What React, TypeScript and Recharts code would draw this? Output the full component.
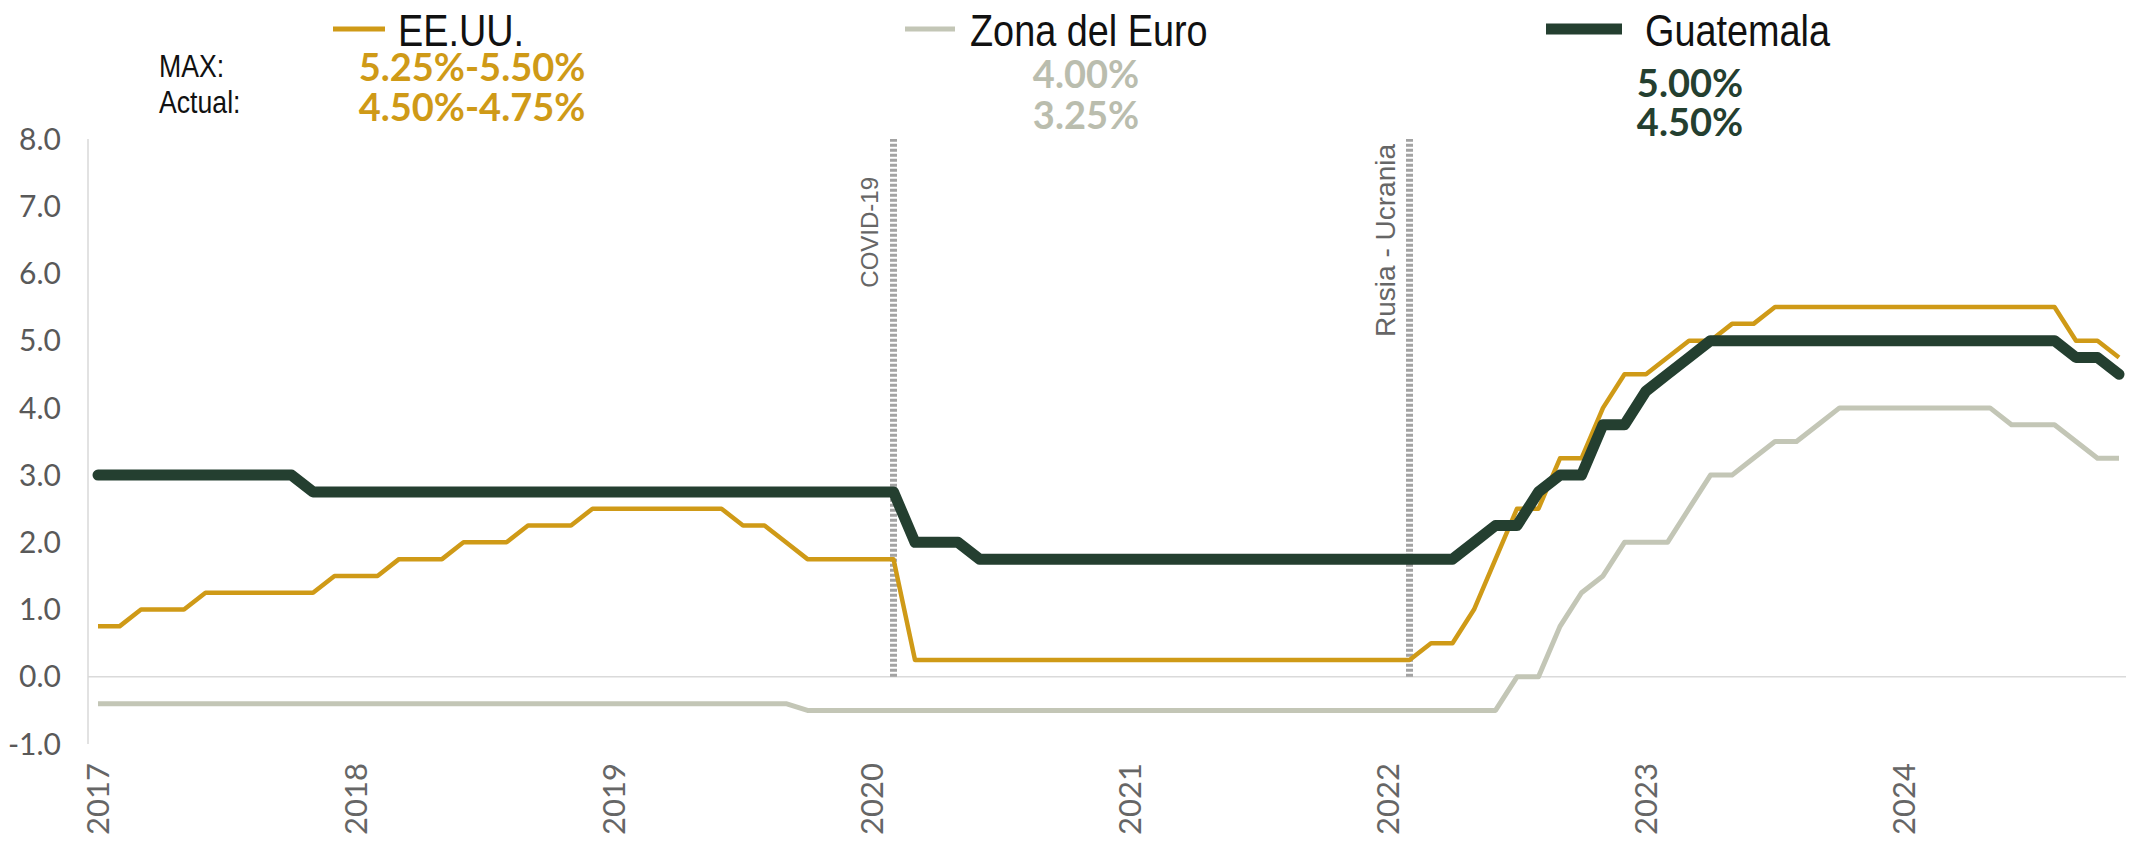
import React from 'react';
import { LineChart, Line, XAxis, YAxis, ReferenceLine } from 'recharts';

const YEARS = ['2017', '2018', '2019', '2020', '2021', '2022', '2023', '2024'];
const MONTHS = ['01', '02', '03', '04', '05', '06', '07', '08', '09', '10', '11', '12'];

// monthly policy rates, Jan 2017 .. Nov 2024
const usa = [
  0.75, 0.75, 1.0, 1.0, 1.0, 1.25, 1.25, 1.25, 1.25, 1.25, 1.25, 1.5,
  1.5, 1.5, 1.75, 1.75, 1.75, 2.0, 2.0, 2.0, 2.25, 2.25, 2.25, 2.5,
  2.5, 2.5, 2.5, 2.5, 2.5, 2.5, 2.25, 2.25, 2.0, 1.75, 1.75, 1.75,
  1.75, 1.75, 0.25, 0.25, 0.25, 0.25, 0.25, 0.25, 0.25, 0.25, 0.25, 0.25,
  0.25, 0.25, 0.25, 0.25, 0.25, 0.25, 0.25, 0.25, 0.25, 0.25, 0.25, 0.25,
  0.25, 0.25, 0.5, 0.5, 1.0, 1.75, 2.5, 2.5, 3.25, 3.25, 4.0, 4.5,
  4.5, 4.75, 5.0, 5.0, 5.25, 5.25, 5.5, 5.5, 5.5, 5.5, 5.5, 5.5,
  5.5, 5.5, 5.5, 5.5, 5.5, 5.5, 5.5, 5.5, 5.0, 5.0, 4.75,
];

const euro = [
  -0.4, -0.4, -0.4, -0.4, -0.4, -0.4, -0.4, -0.4, -0.4, -0.4, -0.4, -0.4,
  -0.4, -0.4, -0.4, -0.4, -0.4, -0.4, -0.4, -0.4, -0.4, -0.4, -0.4, -0.4,
  -0.4, -0.4, -0.4, -0.4, -0.4, -0.4, -0.4, -0.4, -0.4, -0.5, -0.5, -0.5,
  -0.5, -0.5, -0.5, -0.5, -0.5, -0.5, -0.5, -0.5, -0.5, -0.5, -0.5, -0.5,
  -0.5, -0.5, -0.5, -0.5, -0.5, -0.5, -0.5, -0.5, -0.5, -0.5, -0.5, -0.5,
  -0.5, -0.5, -0.5, -0.5, -0.5, -0.5, 0.0, 0.0, 0.75, 1.25, 1.5, 2.0,
  2.0, 2.0, 2.5, 3.0, 3.0, 3.25, 3.5, 3.5, 3.75, 4.0, 4.0, 4.0,
  4.0, 4.0, 4.0, 4.0, 4.0, 3.75, 3.75, 3.75, 3.5, 3.25, 3.25,
];

const guate = [
  3.0, 3.0, 3.0, 3.0, 3.0, 3.0, 3.0, 3.0, 3.0, 3.0, 2.75, 2.75,
  2.75, 2.75, 2.75, 2.75, 2.75, 2.75, 2.75, 2.75, 2.75, 2.75, 2.75, 2.75,
  2.75, 2.75, 2.75, 2.75, 2.75, 2.75, 2.75, 2.75, 2.75, 2.75, 2.75, 2.75,
  2.75, 2.75, 2.0, 2.0, 2.0, 1.75, 1.75, 1.75, 1.75, 1.75, 1.75, 1.75,
  1.75, 1.75, 1.75, 1.75, 1.75, 1.75, 1.75, 1.75, 1.75, 1.75, 1.75, 1.75,
  1.75, 1.75, 1.75, 1.75, 2.0, 2.25, 2.25, 2.75, 3.0, 3.0, 3.75, 3.75,
  4.25, 4.5, 4.75, 5.0, 5.0, 5.0, 5.0, 5.0, 5.0, 5.0, 5.0, 5.0,
  5.0, 5.0, 5.0, 5.0, 5.0, 5.0, 5.0, 5.0, 4.75, 4.75, 4.5,
];

const yTicks = [-1, 0, 1, 2, 3, 4, 5, 6, 7, 8];

const eventDates = ['2020-02', '2022-02'];
const eventLabels = ['COVID-19', 'Rusia - Ucrania'];

const seriesNames = ['EE.UU.', 'Zona del Euro', 'Guatemala'];
const maxValues = ['5.25%-5.50%', '4.00%', '5.00%'];
const currentValues = ['4.50%-4.75%', '3.25%', '4.50%'];

const periods = YEARS.flatMap((y) => MONTHS.map((m) => `${y}-${m}`)).slice(0, usa.length);
const data = periods.map((p, i) => ({ p, usa: usa[i], euro: euro[i], guate: guate[i] }));

const GOLD = '#CF9A17';
const GREY = '#C3C6B6';
const GREEN = '#243F30';

const TICK_FONT = 'Lato, "Open Sans", sans-serif';
const NARROW = '"Liberation Sans Narrow", "Arial Narrow", "Liberation Sans", sans-serif';

// label placement for the two event markers
const eventStyle = [
  { top: 38, size: 24 },
  { top: 5, size: 28 },
];

const YearTick = ({ x, y, payload }: any) => (
  <text
    x={x}
    y={y}
    transform={`rotate(-90, ${x}, ${y})`}
    textAnchor="end"
    dy="0.35em"
    fill="#666"
    fontSize={31}
    fontFamily={TICK_FONT}
  >
    {String(payload.value).slice(0, 4)}
  </text>
);

const EventLabel = ({ viewBox, text, idx }: any) => {
  if (!viewBox) return null;
  const st = eventStyle[idx];
  const x = viewBox.x - 24;
  const y = viewBox.y + st.top;
  return (
    <text
      x={x}
      y={y}
      transform={`rotate(-90, ${x}, ${y})`}
      textAnchor="end"
      dy="0.35em"
      fill="#666"
      fontSize={st.size}
      fontFamily='"Liberation Sans", Arial, sans-serif'
    >
      {text}
    </text>
  );
};

// legend + max/actual figures drawn above the plot
const legendItems = [
  { color: GOLD, width: 5, x1: 333, x2: 385, tx: 398, vx: 472, vy: [66, 106] },
  { color: GREY, width: 5, x1: 905, x2: 955, tx: 970, vx: 1086, vy: [73, 114] },
  { color: GREEN, width: 11, x1: 1546, x2: 1622, tx: 1645, vx: 1690, vy: [82, 121] },
];

const Narrow = ({ x, y, size, children }: any) => (
  <text
    transform={`translate(${x}, ${y}) scale(0.86, 1)`}
    dominantBaseline="central"
    fontSize={size}
    fontFamily={NARROW}
    fill="#111"
  >
    {children}
  </text>
);

const Header = () => (
  <svg width={2136} height={170} style={{ position: 'absolute', left: 0, top: 0, pointerEvents: 'none' }}>
    {legendItems.map((it, i) => (
      <g key={seriesNames[i]}>
        <line x1={it.x1} x2={it.x2} y1={29} y2={29} stroke={it.color} strokeWidth={it.width} />
        <Narrow x={it.tx} y={31} size={44}>{seriesNames[i]}</Narrow>
        <text x={it.vx} y={it.vy[0]} textAnchor="middle" dominantBaseline="central" fontSize={38} fontWeight={700} fontFamily={TICK_FONT} fill={i === 1 ? '#BABDAE' : it.color}>
          {maxValues[i]}
        </text>
        <text x={it.vx} y={it.vy[1]} textAnchor="middle" dominantBaseline="central" fontSize={38} fontWeight={700} fontFamily={TICK_FONT} fill={i === 1 ? '#BABDAE' : it.color}>
          {currentValues[i]}
        </text>
      </g>
    ))}
    <Narrow x={159} y={66} size={31}>MAX:</Narrow>
    <Narrow x={159} y={102} size={31}>Actual:</Narrow>
  </svg>
);

export default function App() {
  return (
    <div style={{ position: 'absolute', left: 0, top: 0, width: 2136, height: 858, background: '#fff' }}>
      <LineChart width={2136} height={858} data={data} margin={{ top: 139, right: 10, left: 0, bottom: 0 }}>
        <XAxis
          dataKey="p"
          interval={11}
          height={114}
          axisLine={false}
          tickLine={false}
          tickMargin={13}
          padding={{ left: 10, right: 7 }}
          tick={<YearTick />}
        />
        <YAxis
          width={88}
          domain={[-1, 8]}
          ticks={yTicks}
          allowDataOverflow
          axisLine={{ stroke: '#D9D9D9', strokeWidth: 1.5 }}
          tickLine={false}
          tickMargin={21}
          tickFormatter={(v: number) => v.toFixed(1)}
          tick={{ fill: '#595959', fontSize: 30, fontFamily: TICK_FONT }}
        />
        <ReferenceLine y={0} stroke="#DADADA" strokeWidth={1.5} />
        {eventDates.map((at, i) => (
          <ReferenceLine
            key={at}
            segment={[{ x: at, y: 0 }, { x: at, y: 8 }]}
            stroke="#A3A3A3"
            strokeWidth={7}
            strokeDasharray="3 2"
            label={<EventLabel text={eventLabels[i]} idx={i} />}
          />
        ))}
        <Line type="linear" dataKey="euro" name={seriesNames[1]} stroke={GREY} strokeWidth={5} dot={false} strokeLinejoin="round" isAnimationActive={false} />
        <Line type="linear" dataKey="usa" name={seriesNames[0]} stroke={GOLD} strokeWidth={4.5} dot={false} strokeLinejoin="round" isAnimationActive={false} />
        <Line type="linear" dataKey="guate" name={seriesNames[2]} stroke={GREEN} strokeWidth={11} dot={false} strokeLinejoin="round" strokeLinecap="round" isAnimationActive={false} />
      </LineChart>
      <Header />
    </div>
  );
}
